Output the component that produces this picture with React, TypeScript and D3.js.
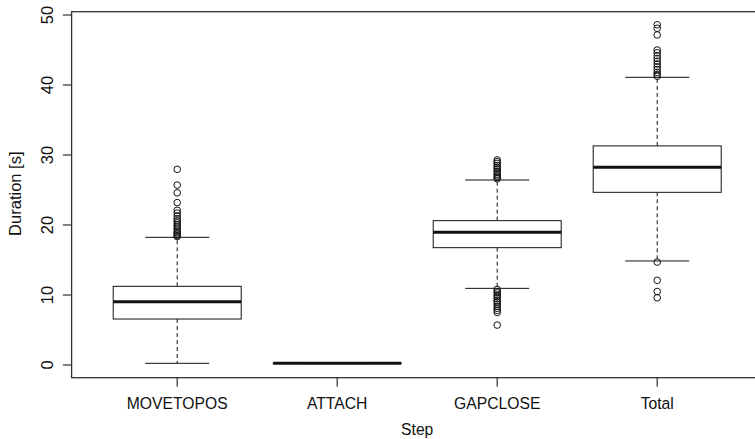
import React from "react";
import * as d3 from "d3";

const categories = ["MOVETOPOS", "ATTACH", "GAPCLOSE", "Total"];
// [lower whisker, Q1, median, Q3, upper whisker]
const boxStats = [
  [0.24, 6.57, 9.05, 11.24, 18.24],
  [0.2, 0.22, 0.24, 0.26, 0.28],
  [10.95, 16.76, 18.95, 20.62, 26.43],
  [14.86, 24.67, 28.24, 31.3, 41.1],
];
const outliers = [
  [27.95, 25.7, 24.6, 23.2, 22.1, 21.7, 21.3, 20.9, 20.6, 20.3, 20.0, 19.7, 19.4, 19.1, 18.9, 18.7, 18.5, 18.35],
  [],
  [29.3, 29.05, 28.8, 28.5, 28.2, 28.0, 27.7, 27.5, 27.2, 27.0, 26.8, 26.6,
   10.8, 10.5, 10.3, 10.0, 9.8, 9.5, 9.2, 9.0, 8.7, 8.4, 8.1, 7.8, 7.5, 5.7],
  [48.6, 48.1, 47.15, 45.0, 44.6, 44.2, 43.8, 43.4, 43.0, 42.6, 42.2, 41.8, 41.5, 41.25,
   14.7, 12.1, 10.5, 9.6],
];
const yTicks = [0, 10, 20, 30, 40, 50];
const xTitle = "Step";
const yTitle = "Duration [s]";

const W = 755;
const H = 439;
const font = "'Liberation Sans', Arial, Helvetica, sans-serif";
const fsH = 15.7;
const fsV = 16.5;

export default function App() {
  const x = d3.scaleLinear().domain([0.34, 4.66]).range([71.6, 762.8]);
  const y = d3.scaleLinear().domain([0, 50]).range([365, 15]);
  const yMin = y.invert(377.7);
  const yMax = y.invert(11.7);
  const boxHalf = x(1.4) - x(1);
  const capHalf = boxHalf / 2;
  const stroke = "#111";
  return (
    <svg width={W} height={H} style={{ position: "absolute", left: 0, top: 0, background: "#fff" }}>
      <rect x={0} y={0} width={W} height={H} fill="#fff" />
      {categories.map((c, i) => {
        const cx = x(i + 1);
        const [lw, q1, med, q3, uw] = boxStats[i];
        return (
          <g key={c}>
            <line x1={cx} x2={cx} y1={y(q3)} y2={y(uw)} stroke={stroke} strokeWidth={1} strokeDasharray="4,3" />
            <line x1={cx} x2={cx} y1={y(q1)} y2={y(lw)} stroke={stroke} strokeWidth={1} strokeDasharray="4,3" />
            <line x1={cx - capHalf} x2={cx + capHalf} y1={y(uw)} y2={y(uw)} stroke={stroke} strokeWidth={1} />
            <line x1={cx - capHalf} x2={cx + capHalf} y1={y(lw)} y2={y(lw)} stroke={stroke} strokeWidth={1} />
            <rect x={cx - boxHalf} y={y(q3)} width={boxHalf * 2} height={Math.max(0, y(q1) - y(q3))} fill="#fff" stroke={stroke} strokeWidth={1} />
            <line x1={cx - boxHalf} x2={cx + boxHalf} y1={y(med)} y2={y(med)} stroke={stroke} strokeWidth={3} />
            {outliers[i].map((v, j) => (
              <circle key={j} cx={cx} cy={y(v)} r={3.3} fill="none" stroke={stroke} strokeWidth={1} />
            ))}
          </g>
        );
      })}
      {/* plot frame */}
      <rect x={x(0.34)} y={y(yMax)} width={x(4.66) - x(0.34)} height={y(yMin) - y(yMax)} fill="none" stroke="#333" strokeWidth={1.3} />
      {/* y axis */}
      {yTicks.map((t) => (
        <g key={t}>
          <line x1={x(0.34) - 8.7} x2={x(0.34)} y1={y(t)} y2={y(t)} stroke="#333" strokeWidth={1.2} />
          <text transform={`translate(53.3,${y(t)}) rotate(-90)`} textAnchor="middle" fontFamily={font} fontSize={fsV} fill="#111">
            {t}
          </text>
        </g>
      ))}
      {/* x axis */}
      {categories.map((c, i) => (
        <g key={c}>
          <line x1={x(i + 1)} x2={x(i + 1)} y1={377.7} y2={386.7} stroke="#333" strokeWidth={1.2} />
          <text transform={`translate(${x(i + 1)},409.3) scale(1,1.1)`} textAnchor="middle" fontFamily={font} fontSize={fsH} fill="#111">
            {c}
          </text>
        </g>
      ))}
      <text transform={`translate(${(x(0.34) + x(4.66)) / 2},434.5) scale(1,1.1)`} textAnchor="middle" fontFamily={font} fontSize={fsH} fill="#111">
        {xTitle}
      </text>
      <text transform={`translate(20.7,193.7) rotate(-90)`} textAnchor="middle" fontFamily={font} fontSize={fsV} fill="#111">
        {yTitle}
      </text>
    </svg>
  );
}
